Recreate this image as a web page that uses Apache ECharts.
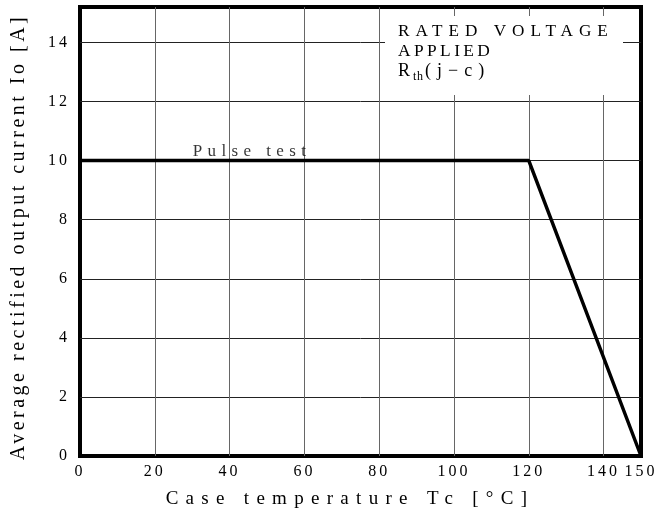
<!DOCTYPE html>
<html><head><meta charset="utf-8">
<script src="https://cdn.jsdelivr.net/npm/echarts@6/dist/echarts.min.js"></script>
<style>
html,body{margin:0;padding:0;background:#fff;}
#c{width:658px;height:512px;}
</style></head>
<body><div id="c"></div>
<script>
// Chart data
const temperatures = [0, 120, 150];      // Case temperature Tc [°C]
const currents = [10, 10, 0];            // Average rectified output current Io [A]
const xTickLabels = [0, 20, 40, 60, 80, 100, 120, 140, 150];
const yTickLabels = [0, 2, 4, 6, 8, 10, 12, 14];
const noteText = 'Pulse test';
const notePoint = [46, 10];
const boxLine1 = 'RATED VOLTAGE';
const boxLine2 = 'APPLIED';
const boxLine3 = ['R', 'th', '(j\u2212c)'];
const xName = 'Case temperature Tc [°C]';
const yName = 'Average rectified output current Io [A]';

// letter spacing per font size (the reference uses widely spaced lettering)
const spacingBySize = {'16': 3, '19': 7.3, '20': 3.5, '17': 5.4, '17.2': 6, '17.4': 3.4, '18': 6, '12': 0.7};
(function () {
  const proto = CanvasRenderingContext2D.prototype;
  const desc = Object.getOwnPropertyDescriptor(proto, 'font');
  if (!desc || !('letterSpacing' in proto)) return;
  Object.defineProperty(proto, 'font', {
    configurable: true,
    get() { return desc.get.call(this); },
    set(v) {
      desc.set.call(this, v);
      const m = /([\d.]+)px/.exec(v);
      const ls = m && spacingBySize[m[1]] ? spacingBySize[m[1]] : 0;
      this.letterSpacing = ls + 'px';
    }
  });
})();

const FONT = 'Liberation Serif';
const chart = echarts.init(document.getElementById('c'), null, {renderer: 'canvas'});

chart.setOption({
  animation: false,
  backgroundColor: '#fff',
  textStyle: {fontFamily: FONT},
  grid: {left: 80, right: 17, top: 7, bottom: 56, outerBoundsMode: 'none', containLabel: false,
    show: true, borderColor: '#000', borderWidth: 4, backgroundColor: 'transparent'},
  xAxis: {
    type: 'value', min: 0, max: 150, interval: 20,
    name: xName, nameLocation: 'middle', nameGap: 30,
    nameTextStyle: {fontFamily: FONT, fontSize: 19, color: '#000', padding: [0, 21, 0, 0]},
    axisLine: {show: false}, axisTick: {show: false},
    axisLabel: {fontFamily: FONT, fontSize: 16, color: '#000', margin: 6,
      formatter: v => xTickLabels.indexOf(v) >= 0 ? String(v) : ''},
    splitLine: {show: true, showMinLine: false, showMaxLine: false, lineStyle: {color: '#666', width: 1}}
  },
  yAxis: {
    type: 'value', min: 0, max: 15.2, interval: 2,
    name: yName, nameLocation: 'middle', nameGap: 50,
    nameTextStyle: {fontFamily: FONT, fontSize: 20, color: '#000', padding: [0, 11, 0, 0]},
    axisLine: {show: false}, axisTick: {show: false},
    axisLabel: {fontFamily: FONT, fontSize: 16, color: '#000', margin: 10,
      formatter: v => yTickLabels.indexOf(v) >= 0 ? String(v) : ''},
    splitLine: {show: true, showMinLine: false, showMaxLine: false, lineStyle: {color: '#222', width: 1}}
  },
  series: [
    {
      type: 'line', data: temperatures.map((t, i) => [t, currents[i]]),
      symbol: 'none', silent: true,
      lineStyle: {color: '#000', width: 3.5}, z: 5
    },
    {
      type: 'scatter', data: [notePoint], symbolSize: 1, silent: true,
      itemStyle: {color: 'rgba(0,0,0,0)'},
      label: {show: true, position: 'top', distance: -3, formatter: noteText,
        fontFamily: FONT, fontSize: 17, color: '#000'},
      z: 6
    }
  ],
  graphic: [
    {type: 'rect', z: 10, silent: true, shape: {x: 385, y: 16, width: 238, height: 79}, style: {fill: '#fff'}},
    {type: 'text', z: 11, silent: true, x: 398, y: 31.5,
      style: {text: boxLine1, fontFamily: FONT, fontSize: 17.2, fill: '#000', verticalAlign: 'middle', align: 'left'}},
    {type: 'text', z: 11, silent: true, x: 398, y: 51,
      style: {text: boxLine2, fontFamily: FONT, fontSize: 17.4, fill: '#000', verticalAlign: 'middle', align: 'left'}},
    {type: 'text', z: 11, silent: true, x: 398, y: 71.5,
      style: {
        text: '{r|' + boxLine3[0] + '}{s|' + boxLine3[1] + '}{q|' + boxLine3[2] + '}',
        verticalAlign: 'middle', align: 'left', fill: '#000',
        rich: {
          r: {fontFamily: FONT, fontSize: 18, width: 15, fill: '#000'},
          s: {fontFamily: FONT, fontSize: 12, width: 12, fill: '#000', verticalAlign: 'bottom', padding: [6, 0, 0, 0]},
          q: {fontFamily: FONT, fontSize: 18, fill: '#000'}
        }
      }}
  ]
});
</script>
</body></html>
